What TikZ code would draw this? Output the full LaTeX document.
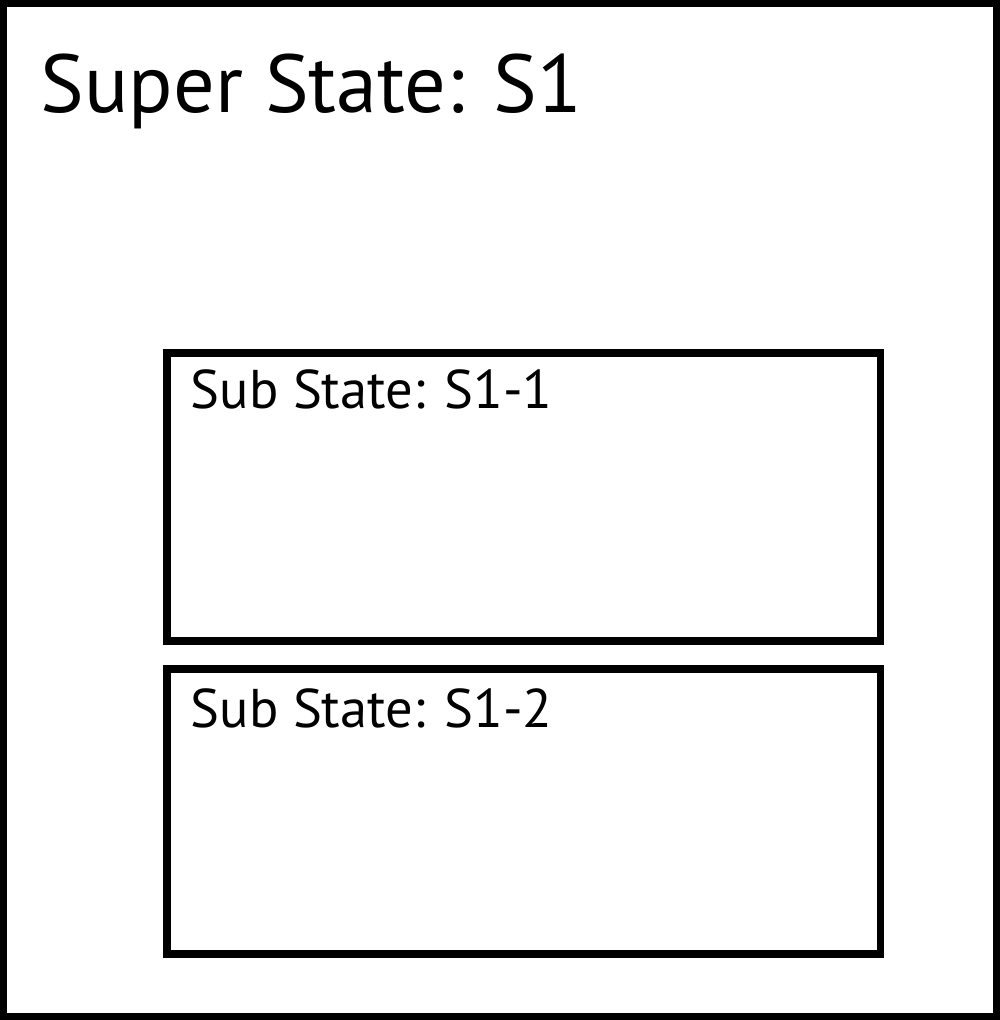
\documentclass[tikz,border=0pt]{standalone}
\usepackage{fontspec}
\setmainfont{PT Sans}
\tikzset{bx/.style = {rectangle, line width=2.1pt, inner sep=0pt, draw},
         lb/.style = {anchor=base west, inner sep=0pt}}

\begin{document}
\begin{tikzpicture}[x=0.01cm, y=-0.01cm]
    \useasboundingbox (0,0) rectangle (1000,1020);
    \node[bx, minimum width=9.927cm, minimum height=10.126cm] (s1) at (500,509.9) {};
    \node[bx, minimum width=7.133cm, minimum height=2.875cm] (s11) at (523.7,497) {};
    \node[bx, minimum width=7.133cm, minimum height=2.847cm] (s12) at (523.7,811.4) {};
    \node[lb, font=\fontsize{23.4}{28}\selectfont] (t1) at (40,112) {Super State: S1};
    \node[lb, font=\fontsize{15.5}{18}\selectfont] (t11) at (190,408) {Sub State: S1-1};
    \node[lb, font=\fontsize{15.5}{18}\selectfont] (t12) at (190,727) {Sub State: S1-2};
\end{tikzpicture}
\end{document}
